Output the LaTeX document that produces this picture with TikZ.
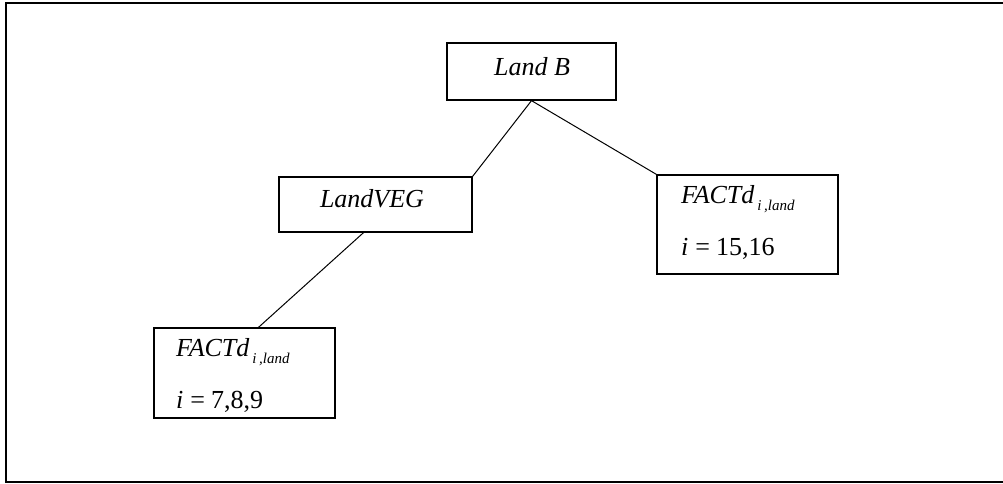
\documentclass[tikz,border=0pt]{standalone}
\usepackage{fontspec}
\setmainfont{Liberation Serif}
\usetikzlibrary{calc}
\tikzset{
  box/.style={draw, line width=1.3pt, rectangle, inner sep=0pt},
  txt/.style={inner sep=0pt, anchor=base west, font=\fontsize{26}{29}\selectfont},
  conn/.style={line width=1pt},
  frame/.style={line width=2pt}
}
\newcommand{\subl}[1]{\hspace{3pt}\raisebox{-7pt}{\fontsize{15}{15}\selectfont\textit{#1}}}
\begin{document}
\begin{tikzpicture}[x=1pt,y=-1pt]
\useasboundingbox (0,0) rectangle (1003,484);
% frame
\draw[frame] (1003,3) -- (6,3) -- (6,482) -- (1003,482);
% boxes
\node[box, minimum width=169pt, minimum height=57pt] (B) at (531.5,71.5) {};
\node[box, minimum width=193pt, minimum height=55pt] (V) at (375.5,204.5) {};
\node[box, minimum width=181pt, minimum height=99pt] (R) at (747.5,224.5) {};
\node[box, minimum width=181pt, minimum height=90pt] (L) at (244.5,373) {};
% texts
\node[txt, anchor=base] (tB) at (532,76) {\textit{Land B}};
\node[txt, anchor=base] (tV) at (372,207) {\textit{LandVEG}};
\node[txt] (tR1) at (681,203) {\textit{FACTd}\subl{i\,,land}};
\node[txt] (tR2) at (681,255) {\textit{i}\hspace{7pt}=\hspace{6pt}15,16};
\node[txt] (tL1) at (176,356) {\textit{FACTd}\subl{i\,,land}};
\node[txt] (tL2) at (176,408) {\textit{i}\hspace{7pt}=\hspace{6pt}7,8,9};
% connectors
\draw[conn] (B.south) -- (V.north east);
\draw[conn] (B.south) -- (R.north west);
\draw[conn] ($(V.south)+(-12,0)$) -- ($(L.north)+(14,0)$);
\end{tikzpicture}
\end{document}
